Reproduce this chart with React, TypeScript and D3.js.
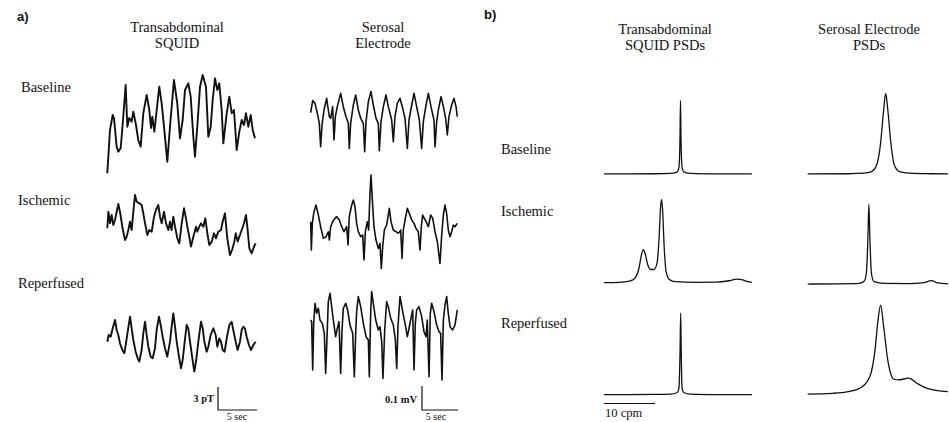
import React from 'react';
import * as d3 from 'd3';

type Pt = [number, number];

// ---- time traces: [time (s), amplitude] ----
// SQUID traces in pT, serosal electrode traces in µV
const squidBaseline: Pt[] = [
  [0.04, -6.28], [0.4, -0.65], [0.76, 1.3], [0.93, 0.91], [1.29, -2.82], [1.51, -3.47], [1.83, -2.99],
  [2.17, 1.08], [2.49, 5.2], [2.71, -0.22], [2.97, 0.91], [3.29, 0.43], [3.51, 1.73], [3.87, 0],
  [4.17, -1.95], [4.49, -2.82], [4.84, 1.52], [5.29, 3.9], [5.64, 1.95], [5.87, -0.39], [6.04, 1.08],
  [6.31, -0.87], [6.63, 1.95], [6.97, 4.98], [7.29, 2.82], [7.6, -0.22], [8.04, -4.77], [8.4, -0.22],
  [8.93, 5.85], [9.37, 2.82], [9.73, -1.73], [10.09, 0.65], [10.4, 4.55], [10.84, 5.42], [11.16, 3.68],
  [11.51, -1.52], [11.73, -4.12], [12.04, -0.22], [12.4, 4.98], [12.76, 6.5], [13.2, 4.98], [13.51, -1.52],
  [13.83, -0.22], [14.09, 3.25], [14.4, 6.07], [14.71, 4.55], [14.97, 5.42], [15.29, 1.95], [15.51, -2.38],
  [15.96, 1.52], [16.31, 3.68], [16.63, 1.52], [16.93, 1.95], [17.29, -3.25], [17.64, -0.87], [17.96, 0.65],
  [18.27, 0], [18.53, 1.52], [18.84, -0.22], [19.16, 1.3], [19.43, -0.65], [19.73, -1.73],
];

const squidIschemic: Pt[] = [
  [0.04, -0.82], [0.18, 1.34], [0.4, -0.17], [0.62, 0.91], [0.84, -0.39], [1.07, 0.26], [1.29, 1.34],
  [1.51, 2.34], [1.73, 1.34], [2.04, -0.61], [2.4, -2.34], [2.62, -1.91], [2.84, -1.04], [3.07, 0.04],
  [3.29, -1.04], [3.51, 1.34], [3.73, 3.51], [3.96, 2.64], [4.31, 2.42], [4.62, 2.21], [4.84, 1.13],
  [5.07, -0.17], [5.38, -1.69], [5.64, -1.04], [5.96, -1.26], [6.27, 0.69], [6.53, 1.56], [6.84, 2.21],
  [7.07, 0.69], [7.29, -0.17], [7.6, 1.34], [7.87, -0.17], [8.18, -1.04], [8.4, 0.04], [8.62, -1.04],
  [8.84, 0.69], [9.07, -0.61], [9.38, -2.12], [9.64, -2.77], [9.96, -0.17], [10.27, 1.78], [10.53, 0.48],
  [10.71, -0.61], [10.93, -1.69], [11.2, -3.2], [11.51, -1.91], [11.87, -0.61], [12.04, -1.26], [12.31, -0.61],
  [12.53, -0.17], [12.84, -0.61], [13.11, 0.48], [13.38, -1.47], [13.64, -2.99], [13.96, -2.55], [14.27, -1.47],
  [14.53, -2.12], [14.84, -1.26], [15.2, -1.04], [15.42, 0.04], [15.73, 1.13], [16.04, -2.12], [16.4, -4.29],
  [16.67, -3.64], [16.93, -2.77], [17.16, -1.47], [17.42, -2.55], [17.64, -1.91], [17.96, -1.04], [18.27, -0.17],
  [18.53, 0.91], [18.71, -0.61], [18.98, -3.42], [19.29, -4.07], [19.6, -3.2], [19.82, -2.77],
];

const squidReperfused: Pt[] = [
  [0.04, -0.22], [0.22, 0.65], [0.49, 0.43], [0.76, 1.52], [1.07, 2.6], [1.29, 1.3], [1.51, 0.65],
  [1.73, -0.43], [2.04, -1.3], [2.31, -1.73], [2.53, -0.43], [2.76, 1.08], [3.07, 3.03], [3.29, 1.52],
  [3.51, 0], [3.82, -1.52], [4.09, -2.38], [4.31, -2.81], [4.62, -1.3], [4.84, 0.87], [5.07, 2.38],
  [5.29, 0.65], [5.51, -0.87], [5.82, -2.17], [6.09, -2.38], [6.4, -1.08], [6.62, 1.3], [6.93, 3.03],
  [7.16, 1.95], [7.42, 0.43], [7.73, -1.08], [8.04, -2.17], [8.4, -0.22], [8.62, 1.73], [8.84, 3.46],
  [9.07, 1.73], [9.29, -0.22], [9.6, -2.17], [9.87, -3.68], [10.09, -2.6], [10.31, -0.65], [10.62, 1.95],
  [10.84, 1.52], [11.07, -0.22], [11.38, -2.38], [11.64, -4.11], [11.87, -2.81], [12.18, -0.22], [12.53, 2.38],
  [12.76, 1.52], [12.98, -0.22], [13.29, -1.52], [13.51, -0.87], [13.82, 0.65], [14.18, 1.52], [14.49, 0.65],
  [14.71, -0.87], [14.98, 0.22], [15.2, -0.22], [15.42, -1.3], [15.69, -1.52], [15.96, 0.22], [16.31, 1.95],
  [16.62, 2.38], [16.84, 1.3], [17.16, -0.22], [17.42, -1.3], [17.73, -0.22], [17.96, 1.3], [18.18, 1.73],
  [18.4, 1.52], [18.62, 0.43], [18.93, -0.65], [19.2, -1.3], [19.51, -0.65], [19.82, -0.22],
];

const serosalBaseline: Pt[] = [
  [0.09, -2.8], [0.36, 47.3], [0.67, 36.1], [0.98, -5.6], [1.24, -47.3], [1.42, -144.6], [1.6, -54.2],
  [1.87, 8.3], [2.22, 57], [2.44, 8.3], [2.58, -19.5], [2.76, -26.4], [3.02, 22.2], [3.2, -116.8],
  [3.38, -19.5], [3.64, 22.2], [4.09, 77.8], [4.44, 22.2], [4.8, -19.5], [5.11, -47.3], [5.24, -151.5],
  [5.42, -47.3], [5.78, 29.2], [6.09, 70.9], [6.44, 8.3], [6.76, -26.4], [7.11, -47.3], [7.29, -165.4],
  [7.47, -40.3], [7.78, 43.1], [8.13, 84.8], [8.44, 29.2], [8.8, -26.4], [9.11, -47.3], [9.24, -161.2],
  [9.47, -40.3], [9.78, 22.2], [10.13, 70.9], [10.44, 22.2], [10.89, -33.4], [11.11, -123.7], [11.33, -19.5],
  [11.64, 36.1], [12, 57], [12.36, 15.3], [12.67, -26.4], [12.98, -151.5], [13.2, -33.4], [13.56, 29.2],
  [13.87, 77.8], [14.22, 22.2], [14.58, -33.4], [14.89, -151.5], [15.11, -40.3], [15.47, 29.2], [15.78, 77.8],
  [16.13, 22.2], [16.53, -33.4], [16.67, -144.6], [16.89, -40.3], [17.11, 8.3], [17.47, 63.9], [17.78, 22.2],
  [18.09, -26.4], [18.31, -95.9], [18.53, -19.5], [18.89, 29.2], [19.2, 57], [19.47, 22.2], [19.64, -19.5],
];

const serosalIschemic: Pt[] = [
  [0.09, 20.9], [0.18, -97.3], [0.31, 13.9], [0.53, 62.6], [0.8, 90.4], [1.11, 48.7], [1.42, 0],
  [1.78, -48.7], [2.13, -41.7], [2.44, -20.9], [2.58, -55.6], [2.76, 0], [3.02, 20.9], [3.33, 34.8],
  [3.56, 41.7], [3.91, 27.8], [4.22, 0], [4.53, -20.9], [4.89, 0], [5.07, -76.5], [5.24, 41.7],
  [5.56, 90.4], [5.78, 111.2], [6, 83.4], [6.22, 13.9], [6.44, -20.9], [6.76, -41.7], [7.02, -34.8],
  [7.2, -139], [7.38, -20.9], [7.64, 20.9], [7.82, -13.9], [8, 139], [8.13, 215.5], [8.31, 111.2],
  [8.53, 0], [8.8, -55.6], [9.11, -90.4], [9.33, -69.5], [9.51, -173.8], [9.69, -83.4], [9.91, -13.9],
  [10.22, 7], [10.58, 76.5], [10.8, 20.9], [11.11, -13.9], [11.47, -20.9], [11.78, -27.8], [12.09, -13.9],
  [12.27, -132.1], [12.44, -13.9], [12.67, 27.8], [12.98, 76.5], [13.24, 55.6], [13.56, 27.8], [13.87, 13.9],
  [14.13, -7], [14.44, -20.9], [14.67, -97.3], [14.84, 0], [15.02, 48.7], [15.24, 34.8], [15.47, 20.9],
  [15.78, 0], [16.09, 48.7], [16.36, 34.8], [16.67, -20.9], [16.98, -62.6], [17.33, -152.9], [17.56, -34.8],
  [17.78, 48.7], [18, 90.4], [18.22, 55.6], [18.44, -13.9], [18.67, -41.7], [18.89, -20.9], [19.11, 7],
  [19.33, 0], [19.64, 13.9],
];

const serosalReperfused: Pt[] = [
  [0.09, 0], [0.22, -7], [0.36, -208.5], [0.49, -13.9], [0.67, 69.5], [0.89, 27.8], [1.11, 48.7],
  [1.33, 0], [1.64, -13.9], [1.91, -55.6], [2.09, -222.4], [2.27, -69.5], [2.44, 76.5], [2.67, 111.2],
  [2.89, 55.6], [3.11, 0], [3.42, -69.5], [3.64, -34.8], [3.87, -7], [4.09, -222.4], [4.27, -41.7],
  [4.44, 48.7], [4.76, 69.5], [5.02, 41.7], [5.33, -20.9], [5.69, -55.6], [5.91, -236.3], [6.09, -55.6],
  [6.22, 34.8], [6.44, 97.3], [6.76, 55.6], [7.11, -13.9], [7.47, -69.5], [7.78, -83.4], [7.91, -236.3],
  [8.09, 27.8], [8.22, 118.2], [8.44, 69.5], [8.76, 0], [9.11, -41.7], [9.33, -27.8], [9.56, -90.4],
  [9.73, -243.3], [9.96, -41.7], [10.22, 76.5], [10.44, 55.6], [10.76, 7], [11.11, -20.9], [11.38, -83.4],
  [11.56, -201.6], [11.73, -27.8], [12, 97.3], [12.36, 34.8], [12.67, -13.9], [12.98, -69.5], [13.16, -41.7],
  [13.42, 0], [13.69, 41.7], [13.87, -208.5], [14.04, -13.9], [14.22, 41.7], [14.53, 55.6], [14.89, 13.9],
  [15.2, -48.7], [15.47, -69.5], [15.64, 0], [15.87, -236.3], [16.04, 27.8], [16.22, 69.5], [16.53, 34.8],
  [16.89, -20.9], [17.2, -48.7], [17.42, -55.6], [17.6, -250.2], [17.78, 0], [18, 62.6], [18.22, 97.3],
  [18.44, 27.8], [18.67, -27.8], [19.02, -41.7], [19.33, -20.9], [19.64, 41.7],
];

// ---- power spectra: [frequency (cpm), relative power] ----
const psdSquidBaseline: Pt[] = [
  [0, 0.005], [5, 0.005], [10, 0.006], [13, 0.01], [14.3, 0.025], [14.7, 0.08], [14.9, 0.4],
  [15, 0.82], [15.1, 0.4], [15.3, 0.08], [15.7, 0.025], [17, 0.01], [22, 0.005], [29, 0.004],
];
const psdSerosalBaseline: Pt[] = [
  [0, 0.004], [8, 0.006], [11, 0.012], [12.5, 0.03], [13.5, 0.1], [14.3, 0.35], [14.9, 0.72],
  [15.3, 0.9], [15.7, 0.72], [16.3, 0.35], [17, 0.1], [18, 0.03], [20, 0.012], [24, 0.006], [27.5, 0.004],
];
const psdSquidIschemic: Pt[] = [
  [0, 0.005], [3, 0.008], [5, 0.02], [6, 0.05], [6.8, 0.15], [7.3, 0.3], [7.7, 0.37], [8.1, 0.32],
  [8.6, 0.2], [9.2, 0.15], [9.8, 0.15], [10.4, 0.22], [10.8, 0.5], [11.1, 0.85], [11.3, 0.93],
  [11.5, 0.8], [11.8, 0.4], [12.2, 0.12], [12.8, 0.04], [14, 0.015], [18, 0.008], [22, 0.01],
  [24.5, 0.025], [26, 0.042], [27, 0.038], [28, 0.018], [29, 0.008],
];
const psdSerosalIschemic: Pt[] = [
  [0, 0.003], [6, 0.005], [10, 0.01], [11, 0.03], [11.5, 0.12], [11.8, 0.5], [12, 0.89], [12.2, 0.5],
  [12.5, 0.12], [13, 0.03], [15, 0.01], [20, 0.008], [22.5, 0.015], [24.3, 0.04], [25.5, 0.015], [27.5, 0.005],
];
const psdSquidReperfused: Pt[] = [
  [0, 0.005], [5, 0.005], [10, 0.006], [13, 0.01], [14.3, 0.025], [14.7, 0.08], [14.9, 0.45],
  [15.04, 0.91], [15.15, 0.45], [15.3, 0.08], [15.7, 0.025], [17, 0.01], [22, 0.005], [29, 0.004],
];
const psdSerosalReperfused: Pt[] = [
  [0, 0.003], [4.9, 0.011], [8, 0.03], [10.2, 0.067], [12.2, 0.2], [13.2, 0.49], [13.8, 0.83], [14.3, 0.99],
  [14.9, 0.75], [15.7, 0.38], [16.4, 0.21], [16.8, 0.17], [17.8, 0.16], [19.8, 0.18], [21.5, 0.12],
  [23.4, 0.067], [27.5, 0.03],
];

const rowLabels = ['Baseline', 'Ischemic', 'Reperfused'];

const FONT = '"Liberation Serif", "Times New Roman", serif';
const INK = '#111';

function Trace({ data, x0, cy, unitPx, width }: { data: Pt[]; x0: number; cy: number; unitPx: number; width: number }) {
  const x = d3.scaleLinear().domain([0, 20]).range([x0, x0 + 150]);
  const y = d3.scaleLinear().domain([-1, 1]).range([cy + unitPx, cy - unitPx]);
  const line = d3.line<Pt>().x(d => x(d[0])).y(d => y(d[1]));
  return <path d={line(data) || ''} fill="none" stroke={INK} strokeWidth={width} strokeLinejoin="round" />;
}

function Spectrum({ data, x0, base }: { data: Pt[]; x0: number; base: number }) {
  const x = d3.scaleLinear().domain([0, 10]).range([x0, x0 + 51]);
  const y = d3.scaleLinear().domain([0, 1]).range([base, base - 90]);
  const line = d3.line<Pt>().x(d => x(d[0])).y(d => y(d[1])).curve(d3.curveMonotoneX);
  return <path d={line(data) || ''} fill="none" stroke={INK} strokeWidth={1.3} strokeLinejoin="round" />;
}

export default function App() {
  const squidTraces = [squidBaseline, squidIschemic, squidReperfused];
  const serosalTraces = [serosalBaseline, serosalIschemic, serosalReperfused];
  const squidCy = [125, 222, 340];
  const serosalCy = [112, 226.7, 320];
  const squidPsd = [psdSquidBaseline, psdSquidIschemic, psdSquidReperfused];
  const serosalPsd = [psdSerosalBaseline, psdSerosalIschemic, psdSerosalReperfused];
  const squidBase = [174.3, 283, 395];
  const serosalBase = [174.3, 284.3, 394.3];
  const leftLabelY = [92, 205, 288];
  const rightLabelY = [154, 216, 328];

  return (
    <svg width={949} height={422} style={{ position: 'absolute', left: 0, top: 0, background: '#fff' }}
      fontFamily={FONT} fill={INK}>
      {/* panel a */}
      <text x={17} y={21} fontSize={13} fontWeight="bold" fontFamily="Arial, sans-serif">a)</text>
      <text x={177} y={32} fontSize={14.5} textAnchor="middle">Transabdominal</text>
      <text x={177} y={48} fontSize={14.5} textAnchor="middle">SQUID</text>
      <text x={383} y={32} fontSize={14.5} textAnchor="middle">Serosal</text>
      <text x={383} y={48} fontSize={14.5} textAnchor="middle">Electrode</text>
      {rowLabels.map((l, i) => (
        <text key={l} x={i === 0 ? 21 : 18} y={leftLabelY[i]} fontSize={14.5}>{l}</text>
      ))}
      {squidTraces.map((d, i) => <Trace key={'sq' + i} data={d} x0={107} cy={squidCy[i]} unitPx={7.69} width={1.9} />)}
      {serosalTraces.map((d, i) => <Trace key={'se' + i} data={d} x0={310} cy={serosalCy[i]} unitPx={0.24} width={1.6} />)}

      {/* scale bars, panel a */}
      <path d="M218,387V410H257" fill="none" stroke={INK} strokeWidth={1.2} />
      <text x={214} y={402} fontSize={10.5} textAnchor="end" fontWeight="bold">3 pT</text>
      <text x={237} y={420} fontSize={10} textAnchor="middle">5 sec</text>
      <path d="M422,386V410H458" fill="none" stroke={INK} strokeWidth={1.2} />
      <text x={417} y={403} fontSize={10.5} textAnchor="end" fontWeight="bold">0.1 mV</text>
      <text x={436} y={420} fontSize={10} textAnchor="middle">5 sec</text>

      {/* panel b */}
      <text x={484} y={19} fontSize={13} fontWeight="bold" fontFamily="Arial, sans-serif">b)</text>
      <text x={665} y={34} fontSize={14.5} textAnchor="middle">Transabdominal</text>
      <text x={665} y={50} fontSize={14.5} textAnchor="middle">SQUID PSDs</text>
      <text x={869} y={34} fontSize={14.5} textAnchor="middle">Serosal Electrode</text>
      <text x={869} y={50} fontSize={14.5} textAnchor="middle">PSDs</text>
      {rowLabels.map((l, i) => (
        <text key={'r' + l} x={501} y={rightLabelY[i]} fontSize={14.5}>{l}</text>
      ))}
      {squidPsd.map((d, i) => <Spectrum key={'ps' + i} data={d} x0={604} base={squidBase[i]} />)}
      {serosalPsd.map((d, i) => <Spectrum key={'pe' + i} data={d} x0={807.7} base={serosalBase[i]} />)}
      <line x1={604} x2={655} y1={403.5} y2={403.5} stroke={INK} strokeWidth={1.2} />
      <text x={605} y={417} fontSize={12.5}>10 cpm</text>
    </svg>
  );
}
